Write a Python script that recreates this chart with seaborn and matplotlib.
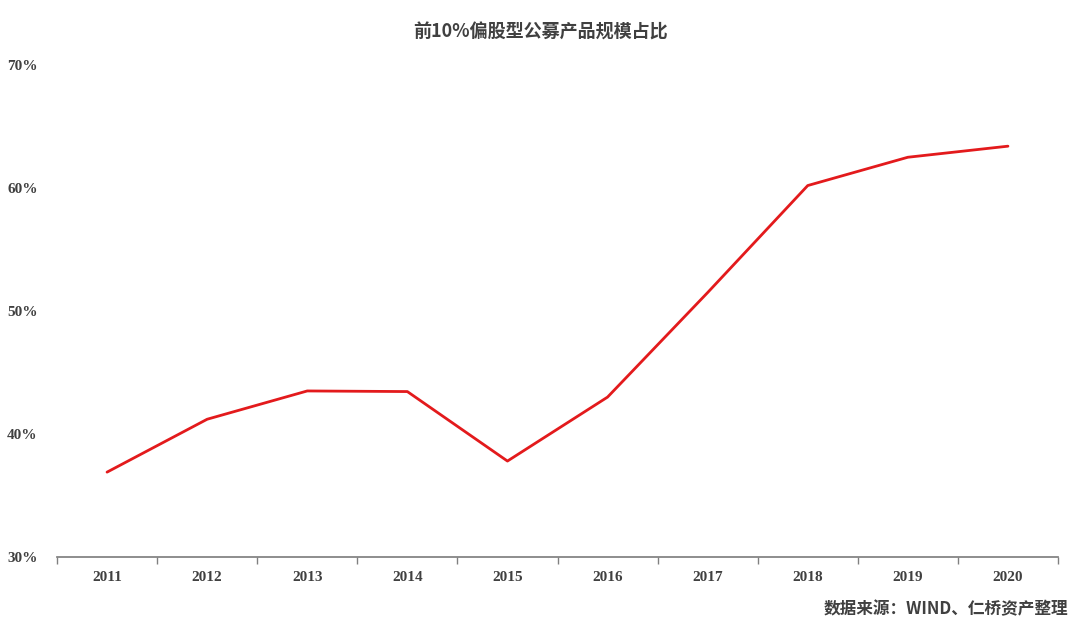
import matplotlib
matplotlib.use("Agg")
import matplotlib.pyplot as plt
import seaborn as sns
import pandas as pd
from matplotlib.ticker import FixedLocator

years = ["2011","2012","2013","2014","2015","2016","2017","2018","2019","2020"]
share = [36.9, 41.2, 43.5, 43.45, 37.8, 43.0, 51.5, 60.2, 62.5, 63.4]
yticks = [30, 40, 50, 60, 70]

sns.set_theme(style="white")
plt.rcParams['font.family'] = ['Noto Sans CJK SC', 'DejaVu Sans']

fig = plt.figure(figsize=(10.8, 6.37), dpi=100)
ax = fig.add_axes([57/1080, 80/637, 1001/1080, 492/637])
df = pd.DataFrame({"x": range(len(years)), "y": share})
sns.lineplot(data=df, x="x", y="y", ax=ax, color="#e31a1c", linewidth=2)

ax.set_xlim(-0.5, len(years) - 0.5)
ax.set_ylim(30, 70)
ax.set_xticks(range(len(years)))
ax.set_xticklabels(years, family=['Liberation Serif'], fontweight='bold', fontsize=11, color='#404040')
ax.xaxis.set_minor_locator(FixedLocator([i - 0.5 for i in range(len(years) + 1)]))
ax.tick_params(axis='x', which='major', length=0, pad=10)
ax.tick_params(axis='x', which='minor', length=5, color='#808080', direction='out', bottom=True)
ax.set_yticks(yticks)
ax.set_yticklabels([f"{v}%" for v in yticks], family=['Liberation Serif'], fontweight='bold', fontsize=11, color='#404040')
ax.tick_params(axis='y', length=0, pad=14)
for s in ['left', 'right', 'top']:
    ax.spines[s].set_visible(False)
ax.spines['bottom'].set_color('#808080')
ax.set_xlabel("")
ax.set_ylabel("")

fig.text(540/1080, 1 - 32/637, "前10%偏股型公募产品规模占比", ha='center', va='center',
         fontsize=13, fontweight='bold', color='#404040')
fig.text(1068/1080, 1 - 609/637, "数据来源：WIND、仁桥资产整理", ha='right', va='center',
         fontsize=12, fontweight='bold', color='#404040')

fig.savefig("out.png", dpi=100)
